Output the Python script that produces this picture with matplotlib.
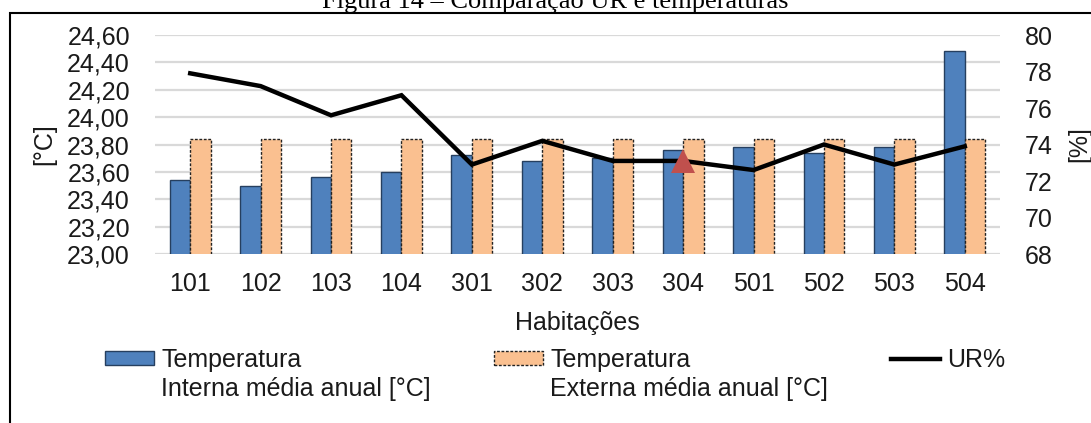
import matplotlib
matplotlib.use("Agg")
import matplotlib.pyplot as plt
from matplotlib.patches import Patch, Rectangle
from matplotlib.lines import Line2D
import numpy as np

plt.rcParams['font.family'] = ['Liberation Sans', 'DejaVu Sans']

# habitações e médias anuais
habitacoes = ["101", "102", "103", "104", "301", "302", "303", "304",
              "501", "502", "503", "504"]
temp_interna = [23.54, 23.50, 23.56, 23.60, 23.72, 23.68, 23.70, 23.76,
                23.78, 23.74, 23.78, 24.48]
temp_externa = [23.84] * 12
ur = [77.9, 77.2, 75.6, 76.7, 72.9, 74.2, 73.1, 73.1, 72.6, 74.0, 72.9, 73.9]
destaque = "304"  # habitação marcada com triângulo

W, H = 1091, 423
fig = plt.figure(figsize=(W / 100, H / 100), dpi=100)
ax = fig.add_axes([155 / W, 1 - 254 / H, 845 / W, 219 / H])
ax2 = ax.twinx()

fs = 18
txt = "#1a1a1a"
x = np.arange(len(habitacoes))
bw = 0.29

ax.bar(x - bw / 2, temp_interna, bw, color="#4f81bd", edgecolor="#263f5f",
       linewidth=1.0, zorder=2)
ax.bar(x + bw / 2, temp_externa, bw, color="#fac090", edgecolor="#222222",
       linewidth=1.0, linestyle=(0, (2, 1.2)), zorder=2)

ax.set_xlim(-0.5, len(habitacoes) - 0.5)
ax.set_ylim(23.0, 24.6)
ax.set_yticks(np.arange(23.0, 24.61, 0.2))
ax.set_yticklabels([f"{v:.2f}".replace(".", ",") for v in np.arange(23.0, 24.61, 0.2)])
ax.set_xticks(x)
ax.set_xticklabels(habitacoes)
ax.set_axisbelow(True)
ax.grid(axis="y", color="#d9d9d9", linewidth=1.6)
for s in ax.spines.values():
    s.set_visible(False)
for s in ax2.spines.values():
    s.set_visible(False)
ax.tick_params(axis="both", length=0, labelsize=fs, labelcolor=txt)
ax.tick_params(axis="y", pad=18)
ax.tick_params(axis="x", pad=13)
ax.set_xlabel("Habitações", fontsize=fs, color=txt, labelpad=11)
ax.set_ylabel("[°C]", fontsize=fs, color=txt)
ax.yaxis.set_label_coords((56 - 155) / 845, 0.5)

ax2.plot(x, ur, color="black", linewidth=3.2, solid_joinstyle="miter", zorder=3)
i = habitacoes.index(destaque)
ax2.plot(x[i], ur[i], marker="^", markersize=17, color="#c0504d",
         markeredgewidth=0, zorder=4)
ax2.set_ylim(68, 80)
ax2.set_yticks(np.arange(68, 81, 2))
ax2.tick_params(axis="y", length=0, labelsize=fs, labelcolor=txt, pad=18)
ax2.set_ylabel("[%]", fontsize=fs, color=txt, rotation=90)
ax2.yaxis.set_label_coords((1067 - 155) / 845, 0.5)

# legenda em três colunas, com segunda linha de texto por baixo
entradas = [
    (Patch(facecolor="#4f81bd", edgecolor="#263f5f", linewidth=1.0),
     "Temperatura", "Interna média anual [°C]", 105),
    (Patch(facecolor="#fac090", edgecolor="#222222", linewidth=1.0,
           linestyle=(0, (2, 1.2))),
     "Temperatura", "Externa média anual [°C]", 494),
    (Line2D([], [], color="black", linewidth=3.2), "UR%", None, 891),
]
for handle, l1, l2, px in entradas:
    fig.legend([handle], [l1], loc="center left",
               bbox_to_anchor=(px / W, 1 - 360 / H), frameon=False,
               fontsize=fs, labelcolor=txt, borderpad=0, borderaxespad=0,
               handlelength=1.95, handleheight=0.45, handletextpad=0.3)
    if l2:
        fig.text((px + 56) / W, 1 - 389 / H, l2, fontsize=fs, color=txt,
                 ha="left", va="center")

fig.text(555 / W, 1 - 8 / H, "Figura 14 – Comparação UR e temperaturas",
         family="Liberation Serif", fontsize=19, ha="center", va="baseline")
fig.add_artist(Rectangle((10 / W, -0.1), 1.2, 1 - 13 / H + 0.1,
                         transform=fig.transFigure, fill=False,
                         edgecolor="black", linewidth=1.5))

fig.savefig("out.png", dpi=100)
